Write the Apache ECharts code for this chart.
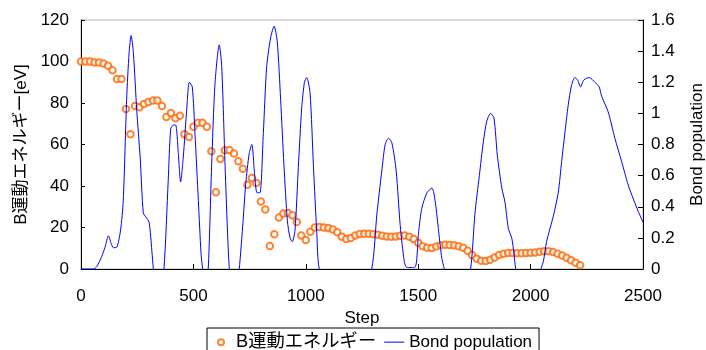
<!DOCTYPE html>
<html><head><meta charset="utf-8">
<script src="https://cdn.jsdelivr.net/npm/echarts@6/dist/echarts.min.js"></script>
<style>html,body{margin:0;padding:0;background:#fff}#c{width:706px;height:350px}</style>
</head><body><div id="c"></div>
<script>
const energySteps = [0,20,40,60,80,100,120,140,160,180,200,220,240,260,280,300,320,340,360,380,400,420,440,460,480,500,520,540,560,580,600,620,640,660,680,700,720,740,760,780,800,820,840,860,880,900,920,940,960,980,1000,1020,1040,1060,1080,1100,1120,1140,1160,1180,1200,1220,1240,1260,1280,1300,1320,1340,1360,1380,1400,1420,1440,1460,1480,1500,1520,1540,1560,1580,1600,1620,1640,1660,1680,1700,1720,1740,1760,1780,1800,1820,1840,1860,1880,1900,1920,1940,1960,1980,2000,2020,2040,2060,2080,2100,2120,2140,2160,2180,2200,2220];
const energyValues = [100,100,100,99.5,99.5,99,98,95.8,91.6,91.6,77.1,65,78.6,78,79.5,80.5,81.2,81.2,78.6,73.3,75.2,72.6,73.8,65,63.6,68.6,70.5,70.5,68.6,56.8,37,53,57.2,57.3,55.7,51.9,48.3,40.6,43.8,41.4,32.5,28.7,11.1,16.7,24.8,26.7,27,25.9,22.7,16.1,14,17.9,20,20.2,20,19.7,19,17.7,15.6,14.5,15,16.1,16.9,17,17,16.8,16.5,16,15.7,15.6,15.7,16,16.2,15.6,14.4,12.6,11,10.2,10.1,10.8,11.4,11.7,11.6,11.4,11,10.2,8.8,6.8,5,4,3.9,4.5,5.6,6.7,7.4,7.7,7.7,7.6,7.6,7.7,7.8,8,8.3,8.6,8.6,8.2,7.4,6.5,5.4,4.2,3,1.8];
const bondSteps = [0,55,70,92,107,122,134,144,159,176,188,203,214,223,233,248,263,277,288,303,315,322,345,369,388,399,411,421,433,443,455,470,482,495,507,522,534,541,553,566,581,596,615,626,641,652,660,682,704,719,733,748,760,772,783,796,811,826,844,859,873,888,903,918,930,940,952,967,982,994,1004,1019,1034,1049,1060,1175,1293,1316,1338,1353,1368,1383,1402,1420,1438,1450,1485,1502,1516,1539,1561,1576,1591,1605,1616,1675,1733,1752,1772,1790,1805,1822,1837,1852,1872,1886,1901,1916,1926,1934,1990,2046,2057,2071,2101,2123,2138,2153,2167,2182,2197,2209,2222,2237,2261,2286,2305,2316,2345,2375,2405,2434,2457,2479,2500];
const bondValues = [0,0,0.015,0.08,0.14,0.213,0.165,0.137,0.14,0.25,0.44,1.09,1.39,1.5,1.39,1.02,0.72,0.36,0.335,0.3,0.12,0,-0.25,0,0.57,0.9,0.925,0.925,0.74,0.56,0.72,1.02,1.2,1.17,0.87,0.44,0.1,0,-0.15,0,0.66,1.19,1.44,1.3,0.66,0.23,0,-0.3,0,0.27,0.55,0.74,0.8,0.61,0.49,0.49,0.87,1.3,1.49,1.56,1.46,1.09,0.66,0.31,0.2,0.175,0.25,0.66,1.04,1.2,1.23,1.13,0.66,0.23,0,-0.6,0,0.35,0.63,0.8,0.84,0.81,0.63,0.28,0.05,0.01,0.01,0.24,0.39,0.49,0.52,0.43,0.24,0.07,0,-0.4,0,0.35,0.6,0.82,0.95,1.0,0.97,0.73,0.52,0.43,0.26,0.2,0.1,0,-0.35,0,0.05,0.175,0.34,0.49,0.69,0.88,1.05,1.18,1.23,1.215,1.17,1.215,1.23,1.2,1.17,1.11,1.01,0.84,0.69,0.54,0.45,0.37,0.3];
const energyName = 'B運動エネルギー';
const bondName = 'Bond population';

const FONT = "'Liberation Sans','Noto Sans CJK JP',sans-serif";
const chart = echarts.init(document.getElementById('c'), null, {renderer: 'canvas'});
const txt = {color: '#000', fontSize: 17, fontFamily: FONT};
chart.setOption({
  animation: false,
  backgroundColor: '#fff',
  textStyle: {fontFamily: FONT},
  grid: {left: 81, right: 63, top: 20, bottom: 81, outerBoundsMode: 'none', containLabel: false,
         show: true, borderColor: '#b4b4b4', borderWidth: 1, backgroundColor: 'transparent'},
  legend: {
    left: 207, top: 328, orient: 'horizontal',
    borderColor: '#000', borderWidth: 1, padding: [5, 7, 5, 10],
    itemGap: 8, itemWidth: 20, itemHeight: 6,
    textStyle: Object.assign({rich: {j: {fontSize: 18.3, fontFamily: FONT, color: '#000'}}}, txt),
    formatter: function (n) { return n === energyName ? '{j|' + n + '}' : n; },
    data: [
      {name: energyName},
      {name: bondName, icon: 'path://M0,0 L20,0 L20,1 L0,1 Z', itemStyle: {color: '#0000FF'}}
    ]
  },
  xAxis: {
    type: 'value', min: 0, max: 2500, interval: 500,
    name: 'Step', nameLocation: 'middle', nameGap: 36, nameTextStyle: txt,
    axisLine: {show: true, lineStyle: {color: '#000', width: 1}},
    axisTick: {show: true, inside: true, length: 5, lineStyle: {color: '#000'}},
    axisLabel: Object.assign({margin: 19, formatter: function (v) { return String(v); }}, txt),
    splitLine: {show: false}
  },
  yAxis: [{
    type: 'value', position: 'left', min: 0, max: 120, interval: 20,
    name: 'B運動エネルギー[eV]', nameLocation: 'middle', nameGap: 50, nameRotate: 90,
    nameTextStyle: Object.assign({}, txt),
    axisLine: {show: true, lineStyle: {color: '#000', width: 1}},
    axisTick: {show: true, inside: true, length: 4, lineStyle: {color: '#000'}},
    axisLabel: Object.assign({margin: 12}, txt),
    splitLine: {show: false}
  }, {
    type: 'value', position: 'right', min: 0, max: 1.6, interval: 0.2,
    name: bondName, nameLocation: 'middle', nameGap: 46, nameRotate: 90,
    nameTextStyle: Object.assign({}, txt),
    axisLine: {show: true, lineStyle: {color: '#000', width: 1}},
    axisTick: {show: true, inside: true, length: 5, lineStyle: {color: '#000'}},
    axisLabel: Object.assign({margin: 8}, txt),
    splitLine: {show: false}
  }],
  series: [{
    name: energyName, type: 'scatter', yAxisIndex: 0,
    symbol: 'emptyCircle', symbolSize: 6.5,
    itemStyle: {color: '#FF6600', borderColor: '#FF6600', borderWidth: 1},
    data: energySteps.map((s, i) => [s, energyValues[i]]),
    z: 2
  }, {
    name: bondName, type: 'line', yAxisIndex: 1,
    symbol: 'none', clip: true, smooth: 0.25,
    lineStyle: {color: '#0000FF', width: 1},
    itemStyle: {color: '#0000FF'},
    data: bondSteps.map((s, i) => [s, bondValues[i]]),
    z: 3
  }]
});
</script>
</body></html>
